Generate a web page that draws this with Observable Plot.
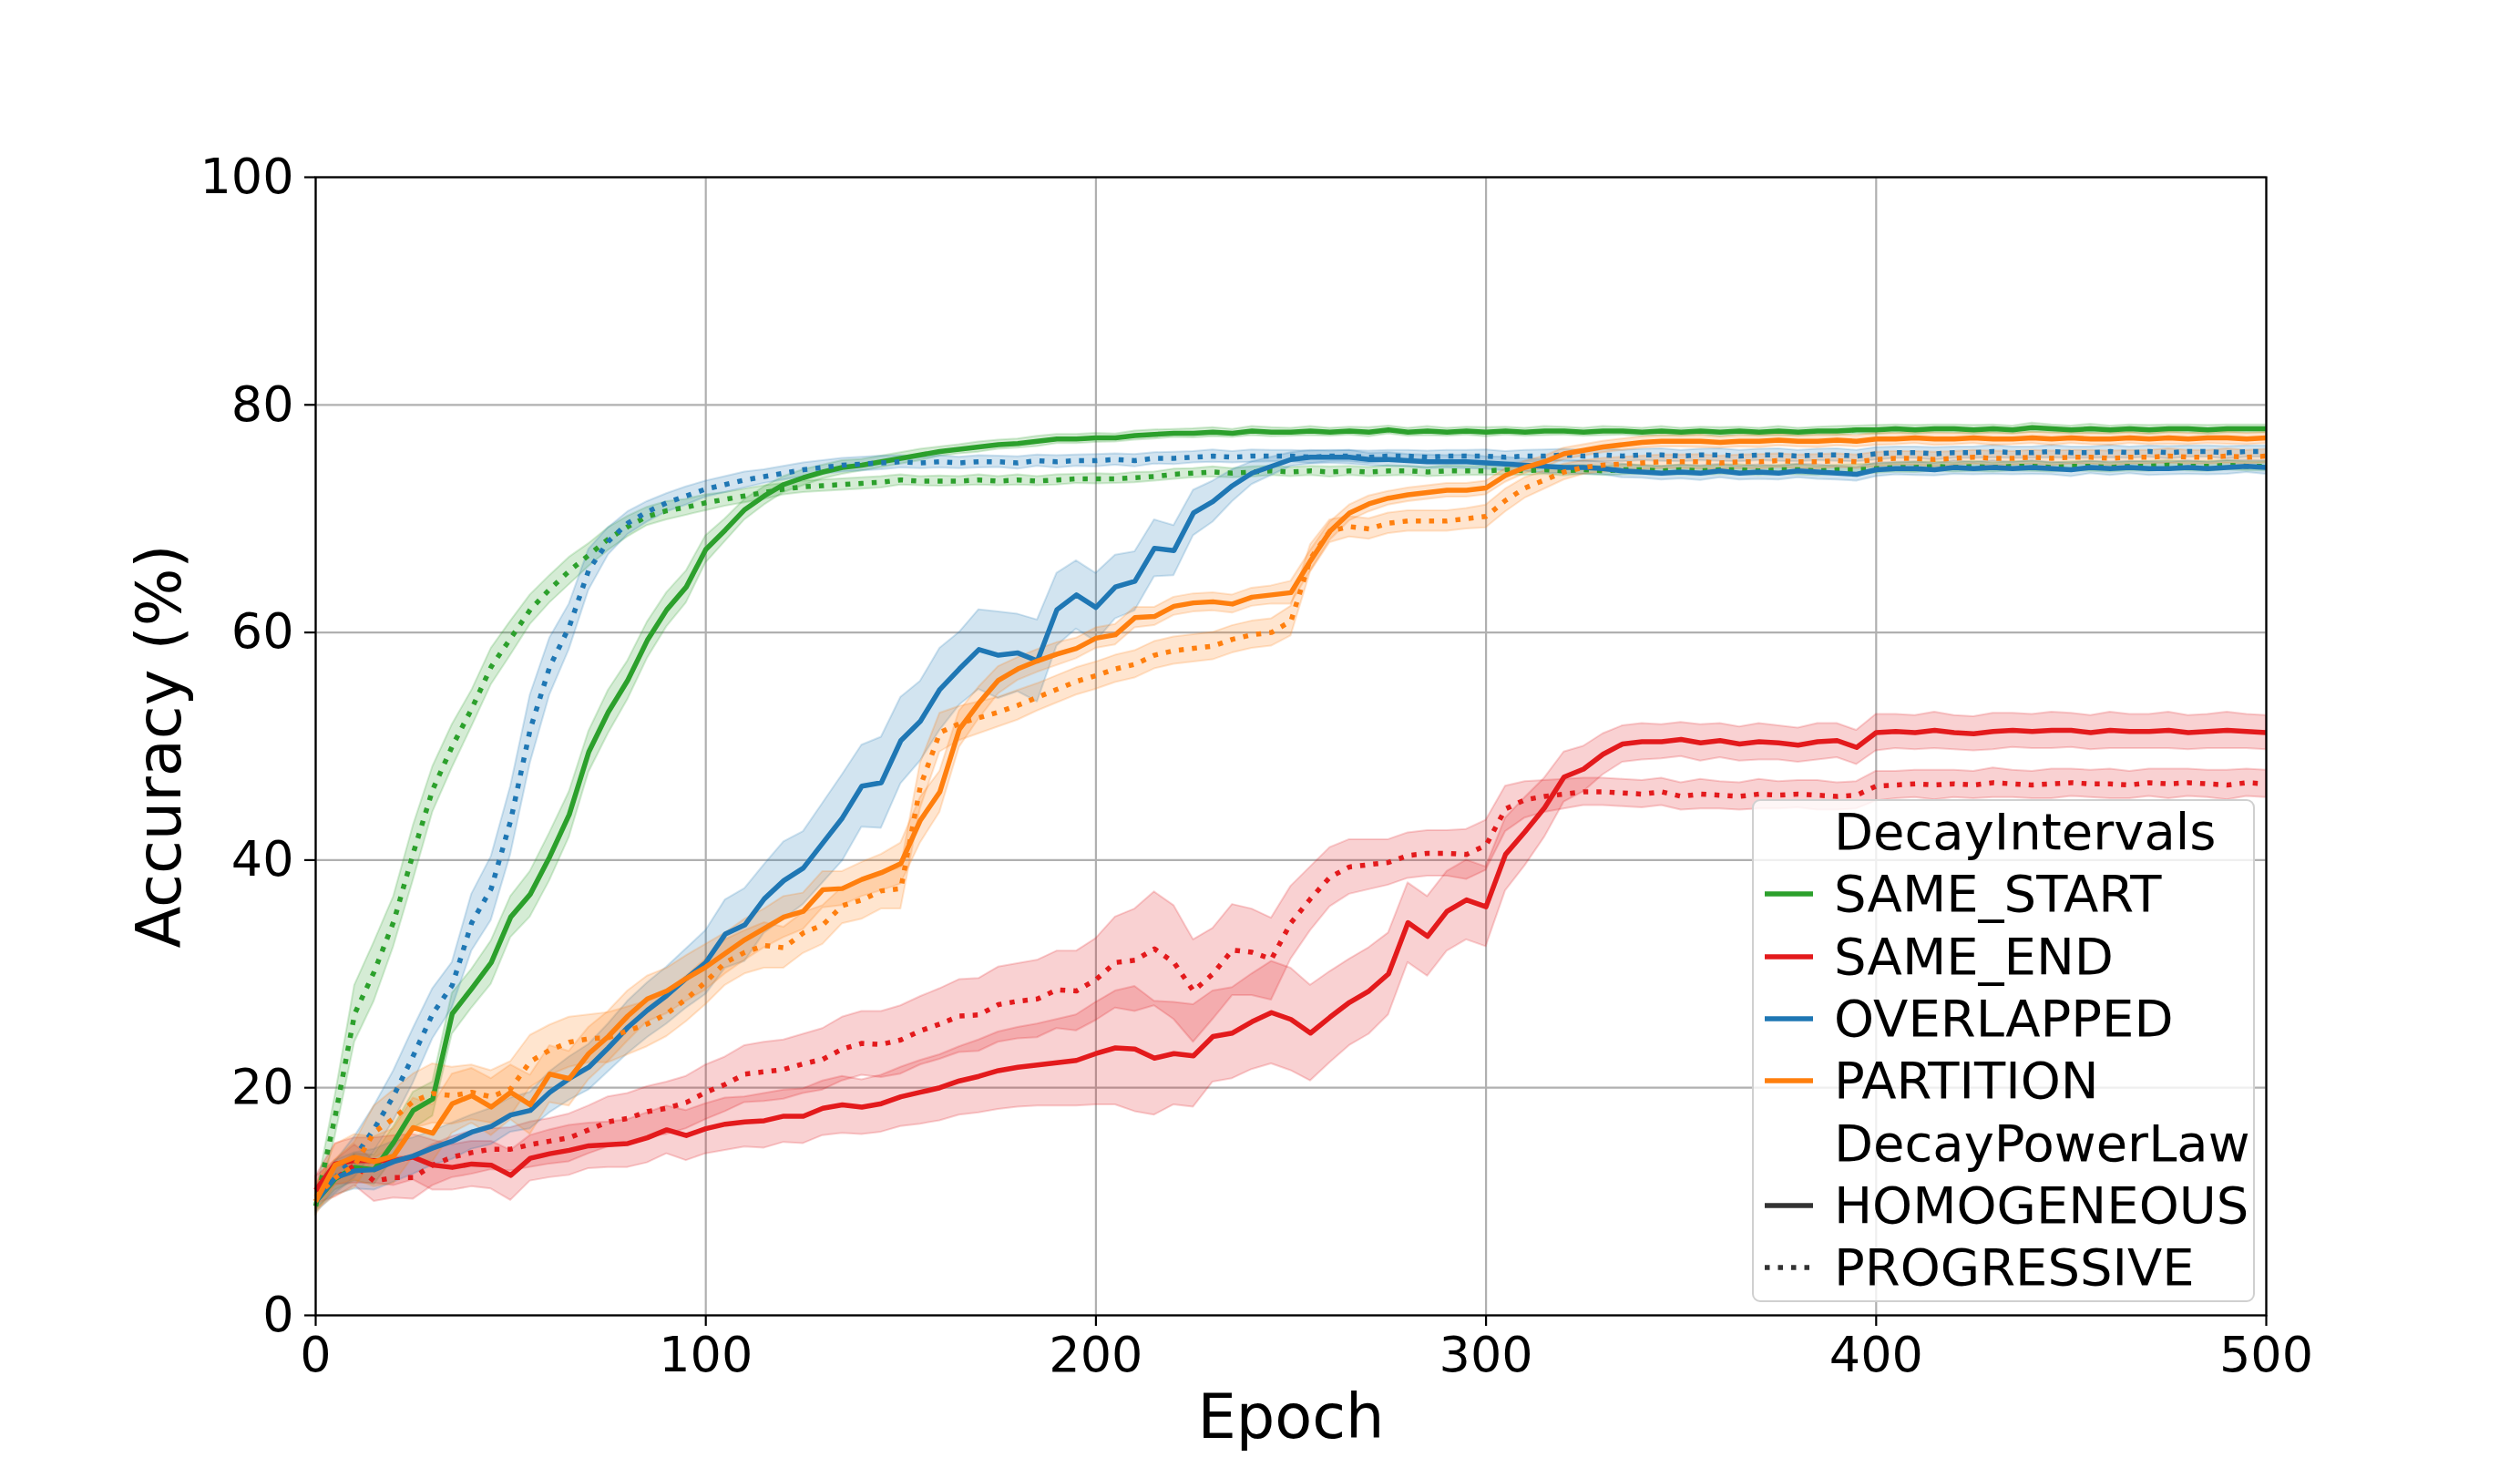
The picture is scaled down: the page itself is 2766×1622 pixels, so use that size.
<!DOCTYPE html>
<html>
<head>
<meta charset="utf-8">
<script src="https://cdn.jsdelivr.net/npm/d3@7"></script>
<script src="https://cdn.jsdelivr.net/npm/@observablehq/plot@0.6"></script>
<style>
  html, body { margin: 0; padding: 0; background: #fff; }
  #wrap { position: relative; width: 2766px; height: 1622px; overflow: hidden; font-family: "DejaVu Sans", sans-serif; }
  #legend { position: absolute; left: 1923px; top: 877px; width: 552px; height: 552px; box-sizing: border-box;
    border: 2.5px solid #d0d0d0; border-radius: 9px; background: rgba(255,255,255,0.8); }
  .row { position: absolute; left: 0; height: 68px; width: 100%; }
  .row svg { position: absolute; left: 10px; top: 0; }
  .row span { position: absolute; left: 88px; top: 50%; transform: translateY(-50%); font-size: 56px; color: #000; white-space: nowrap; line-height: 1; }
</style>
</head>
<body>
<div id="wrap"></div>
<script>
// ---------- data ----------
const EPOCHS = d3.range(0, 501, 5);
const X_TICKS = [0, 100, 200, 300, 400, 500];
const Y_TICKS = [0, 20, 40, 60, 80, 100];
const INTERVALS = ["SAME_START", "SAME_END", "OVERLAPPED", "PARTITION"];
const LAWS = ["HOMOGENEOUS", "PROGRESSIVE"];
const COLORS = ["#2ca02c", "#e31a1c", "#1f77b4", "#ff7f0e"];

// SAME_START
const SAME_START_HOMO = [
 10.0,12.0,13.0,12.8,15.2,18.0,19.0,26.5,28.7,31.0,
 35.0,37.0,40.3,44.0,49.5,53.0,55.8,59.3,62.0,64.0,
 67.3,69.0,70.8,72.0,73.0,73.6,74.1,74.5,74.7,75.0,
 75.3,75.6,75.9,76.1,76.3,76.5,76.6,76.8,77.0,77.0,
 77.1,77.1,77.3,77.4,77.5,77.5,77.6,77.5,77.7,77.6,
 77.6,77.7,77.6,77.7,77.6,77.8,77.6,77.7,77.6,77.7,
 77.6,77.7,77.6,77.7,77.7,77.6,77.7,77.7,77.6,77.7,
 77.6,77.7,77.6,77.7,77.6,77.7,77.6,77.7,77.7,77.8,
 77.8,77.9,77.8,77.9,77.9,77.8,77.9,77.8,78.0,77.9,
 77.8,77.9,77.8,77.9,77.8,77.9,77.9,77.8,77.9,77.9,
 77.9];
const SAME_START_HOMO_W = [
 0.8,1.0,1.2,1.3,1.4,1.6,1.5,1.8,1.7,1.9,
 1.8,2.0,2.1,2.0,1.8,1.9,1.7,1.6,1.5,1.4,
 1.2,1.0,0.9,0.8,0.7,0.7,0.6,0.6,0.5,0.5,
 0.5,0.5,0.4,0.4,0.45,0.4,0.4,0.45,0.4,0.4,
 0.4,0.35,0.4,0.4,0.35,0.4,0.4,0.35,0.4,0.4,
 0.35,0.4,0.35,0.35,0.4,0.35,0.35,0.4,0.35,0.35,
 0.4,0.35,0.35,0.4,0.35,0.35,0.4,0.35,0.35,0.4,
 0.35,0.35,0.4,0.35,0.35,0.4,0.35,0.35,0.4,0.35,
 0.4,0.35,0.4,0.35,0.35,0.4,0.35,0.35,0.4,0.35,
 0.35,0.4,0.35,0.35,0.4,0.35,0.35,0.4,0.35,0.35,
 0.35];
const SAME_START_PROG = [
 9.6,17.5,26.5,30.2,34.6,40.6,46.2,50.0,53.3,57.0,
 59.5,62.0,63.8,65.4,66.8,68.2,69.3,70.2,70.7,71.0,
 71.4,71.7,72.0,72.3,72.6,72.8,72.9,73.0,73.1,73.2,
 73.4,73.3,73.3,73.3,73.4,73.3,73.4,73.3,73.4,73.5,
 73.5,73.5,73.6,73.7,73.9,74.0,74.1,74.0,74.1,74.2,
 74.1,74.2,74.1,74.2,74.1,74.2,74.2,74.1,74.2,74.2,
 74.2,74.3,74.2,74.3,74.2,74.3,74.2,74.3,74.3,74.2,
 74.3,74.2,74.3,74.3,74.2,74.3,74.3,74.2,74.3,74.3,
 74.4,74.5,74.5,74.6,74.5,74.6,74.5,74.6,74.6,74.5,
 74.6,74.6,74.5,74.6,74.6,74.7,74.6,74.6,74.7,74.6,
 74.6];
const SAME_START_PROG_W = [
 0.8,1.8,2.5,2.6,2.2,2.4,2.0,1.9,1.6,1.6,
 1.5,1.3,1.2,1.2,1.0,1.0,0.9,0.8,0.8,0.7,
 0.7,0.6,0.6,0.6,0.5,0.5,0.5,0.5,0.5,0.5,
 0.45,0.4,0.45,0.4,0.45,0.4,0.45,0.4,0.45,0.4,
 0.45,0.4,0.45,0.4,0.45,0.4,0.45,0.4,0.45,0.4,
 0.4,0.4,0.45,0.4,0.4,0.45,0.4,0.4,0.45,0.4,
 0.4,0.45,0.4,0.4,0.45,0.4,0.4,0.45,0.4,0.4,
 0.45,0.4,0.4,0.45,0.4,0.4,0.45,0.4,0.4,0.45,
 0.4,0.4,0.45,0.4,0.4,0.45,0.4,0.4,0.45,0.4,
 0.4,0.45,0.4,0.4,0.45,0.4,0.4,0.45,0.4,0.4,
 0.4];

// SAME_END
const SAME_END_HOMO = [
 11.0,13.3,13.6,13.6,13.6,13.9,13.2,13.0,13.3,13.2,
 12.3,13.8,14.2,14.5,14.9,15.0,15.1,15.6,16.3,15.8,
 16.4,16.8,17.0,17.1,17.5,17.5,18.2,18.5,18.3,18.6,
 19.2,19.6,20.0,20.6,21.0,21.5,21.8,22.0,22.2,22.4,
 23.0,23.5,23.4,22.6,23.0,22.8,24.5,24.8,25.8,26.6,
 26.0,24.8,26.2,27.5,28.5,30.0,34.5,33.3,35.5,36.5,
 35.9,40.5,42.5,44.6,47.3,48.0,49.3,50.2,50.4,50.4,
 50.6,50.3,50.5,50.2,50.4,50.3,50.1,50.4,50.5,49.9,
 51.2,51.3,51.2,51.4,51.2,51.1,51.3,51.4,51.3,51.4,
 51.4,51.2,51.4,51.3,51.3,51.4,51.2,51.3,51.4,51.3,
 51.2];
const SAME_END_HOMO_W = [
 1.2,1.8,2.0,2.0,2.2,2.0,2.2,2.0,2.0,2.1,
 2.2,2.0,2.1,2.2,2.0,2.0,2.1,2.2,2.1,2.2,
 2.2,2.3,2.2,2.4,2.3,2.4,2.4,2.5,2.4,2.5,
 2.6,2.8,2.9,3.0,3.2,3.4,3.5,3.6,3.8,4.0,
 4.5,5.0,5.5,5.0,4.5,4.5,4.0,4.0,4.2,4.5,
 4.5,4.2,4.0,3.8,3.8,3.6,3.5,3.5,3.5,3.5,
 3.5,3.2,3.0,2.6,2.2,2.0,1.8,1.6,1.6,1.5,
 1.5,1.6,1.5,1.5,1.6,1.5,1.5,1.6,1.5,1.5,
 1.6,1.5,1.5,1.6,1.5,1.5,1.6,1.5,1.5,1.6,
 1.5,1.5,1.6,1.5,1.5,1.6,1.5,1.5,1.6,1.5,
 1.5];
const SAME_END_PROG = [
 11.0,12.0,13.2,11.8,12.1,12.1,13.2,13.9,14.3,14.6,
 14.6,15.0,15.3,15.6,16.3,17.0,17.3,17.9,18.2,18.7,
 19.6,20.3,21.2,21.4,21.6,22.1,22.5,23.4,23.9,23.8,
 24.2,25.0,25.6,26.3,26.4,27.3,27.6,27.8,28.6,28.5,
 29.5,31.0,31.2,32.2,31.0,28.5,30.0,32.1,31.9,31.3,
 34.5,36.6,38.5,39.4,39.6,39.8,40.4,40.6,40.6,40.5,
 41.3,44.5,45.3,45.6,45.8,46.0,46.0,45.9,45.8,46.0,
 45.6,45.8,45.7,45.6,45.8,45.7,45.8,45.7,45.6,45.7,
 46.5,46.6,46.7,46.6,46.7,46.6,46.8,46.7,46.6,46.7,
 46.8,46.7,46.7,46.6,46.8,46.7,46.8,46.7,46.6,46.8,
 46.7];
const SAME_END_PROG_W = [
 1.2,1.6,1.8,1.8,1.8,1.9,1.8,1.8,1.9,1.8,
 1.9,2.0,2.0,2.1,2.1,2.2,2.2,2.2,2.3,2.3,
 2.4,2.4,2.5,2.6,2.6,2.6,2.7,2.8,2.8,2.9,
 3.0,3.0,3.1,3.2,3.2,3.3,3.3,3.4,3.4,3.5,
 3.6,4.0,4.5,5.0,5.0,4.5,4.0,4.0,3.8,3.6,
 3.2,2.8,2.6,2.4,2.2,2.0,2.0,2.0,2.0,2.2,
 2.2,2.0,1.6,1.4,1.3,1.2,1.2,1.2,1.2,1.2,
 1.2,1.3,1.2,1.2,1.3,1.2,1.2,1.3,1.2,1.2,
 1.3,1.2,1.2,1.3,1.2,1.2,1.3,1.2,1.2,1.3,
 1.2,1.2,1.3,1.2,1.2,1.3,1.2,1.2,1.3,1.2,
 1.2];

// OVERLAPPED
const OVERLAPPED_HOMO = [
 10.0,12.1,12.7,12.8,13.5,14.0,14.7,15.3,16.1,16.6,
 17.6,18.0,19.6,20.8,21.8,23.5,25.3,26.8,28.1,29.6,
 31.0,33.5,34.3,36.6,38.2,39.3,41.5,43.7,46.5,46.8,
 50.5,52.2,55.0,56.8,58.5,58.0,58.2,57.5,62.0,63.3,
 62.2,64.0,64.5,67.4,67.2,70.5,71.5,72.9,74.0,74.6,
 75.2,75.4,75.4,75.4,75.2,75.2,75.1,75.0,75.0,75.0,
 74.9,74.8,74.7,74.6,74.5,74.5,74.4,74.2,74.1,74.0,
 74.1,74.0,74.2,74.0,74.1,74.0,74.2,74.1,74.0,73.9,
 74.3,74.4,74.4,74.3,74.5,74.4,74.5,74.4,74.5,74.4,
 74.3,74.5,74.4,74.5,74.4,74.4,74.5,74.4,74.5,74.6,
 74.5];
const OVERLAPPED_HOMO_W = [
 1.0,1.5,1.6,1.8,1.8,1.6,1.5,1.6,1.5,1.6,
 1.5,1.6,1.8,1.9,2.0,2.1,2.3,2.4,2.5,2.6,
 2.8,3.0,3.2,3.0,3.4,3.2,3.5,3.8,3.6,4.0,
 3.8,3.5,3.6,3.2,3.5,3.8,3.4,3.6,3.2,3.0,
 3.0,2.8,2.6,2.5,2.2,2.0,1.8,1.4,1.0,0.8,
 0.6,0.6,0.55,0.6,0.55,0.6,0.55,0.6,0.55,0.6,
 0.55,0.6,0.55,0.6,0.55,0.6,0.55,0.6,0.55,0.6,
 0.6,0.65,0.6,0.6,0.65,0.6,0.6,0.65,0.6,0.6,
 0.6,0.55,0.6,0.55,0.6,0.55,0.6,0.55,0.6,0.55,
 0.6,0.55,0.6,0.55,0.6,0.55,0.6,0.55,0.6,0.55,
 0.6];
const OVERLAPPED_PROG = [
 10.4,12.1,13.9,16.4,19.3,22.8,26.5,29.0,34.5,37.5,
 43.5,51.5,57.0,60.5,65.5,68.0,69.6,70.6,71.4,72.0,
 72.6,73.0,73.4,73.7,74.0,74.3,74.5,74.7,74.8,74.9,
 75.0,74.9,75.0,74.9,75.0,75.0,74.9,75.1,75.0,75.1,
 75.1,75.2,75.1,75.3,75.3,75.4,75.5,75.4,75.5,75.5,
 75.5,75.4,75.5,75.5,75.4,75.5,75.5,75.4,75.5,75.5,
 75.5,75.4,75.5,75.5,75.6,75.5,75.6,75.5,75.6,75.6,
 75.5,75.6,75.6,75.5,75.6,75.6,75.5,75.6,75.6,75.5,
 75.7,75.8,75.8,75.7,75.8,75.8,75.9,75.8,75.8,75.9,
 75.8,75.8,75.9,75.8,75.9,75.8,75.9,75.9,75.8,75.9,
 75.9];
const OVERLAPPED_PROG_W = [
 1.0,1.4,1.8,2.0,2.2,2.4,2.2,2.0,2.5,2.8,
 3.0,3.0,2.5,2.0,1.8,1.2,1.0,0.9,0.8,0.8,
 0.7,0.7,0.7,0.6,0.6,0.6,0.6,0.6,0.6,0.6,
 0.55,0.5,0.55,0.5,0.55,0.5,0.55,0.5,0.55,0.5,
 0.55,0.5,0.55,0.5,0.55,0.5,0.55,0.5,0.55,0.5,
 0.5,0.55,0.5,0.5,0.55,0.5,0.5,0.55,0.5,0.5,
 0.55,0.5,0.5,0.55,0.5,0.5,0.55,0.5,0.5,0.55,
 0.5,0.5,0.55,0.5,0.5,0.55,0.5,0.5,0.55,0.5,
 0.55,0.5,0.5,0.55,0.5,0.5,0.55,0.5,0.5,0.55,
 0.5,0.5,0.55,0.5,0.5,0.55,0.5,0.5,0.55,0.5,
 0.5];

// PARTITION
const PARTITION_HOMO = [
 10.0,13.2,13.9,13.5,14.0,16.5,16.0,18.6,19.3,18.3,
 19.6,18.5,21.2,20.8,23.0,24.5,26.3,27.8,28.5,29.6,
 30.6,31.8,33.0,34.0,35.0,35.5,37.4,37.5,38.3,38.9,
 39.7,43.5,46.0,51.5,53.8,55.8,56.8,57.5,58.1,58.6,
 59.5,59.8,61.3,61.4,62.3,62.6,62.7,62.5,63.1,63.3,
 63.5,66.3,68.9,70.5,71.3,71.8,72.1,72.3,72.5,72.5,
 72.7,73.8,74.5,75.0,75.7,76.0,76.3,76.5,76.7,76.8,
 76.8,76.8,76.7,76.8,76.8,76.9,76.8,76.8,76.9,76.8,
 77.0,77.0,77.1,77.0,77.0,77.1,77.0,77.0,77.1,77.0,
 77.1,77.0,77.0,77.1,77.0,77.1,77.0,77.1,77.1,77.0,
 77.1];
const PARTITION_HOMO_W = [
 1.2,1.8,2.0,2.2,2.4,2.6,2.5,2.6,2.4,2.5,
 2.4,2.6,2.5,2.4,2.3,2.2,2.2,2.0,2.0,2.0,
 2.0,1.8,1.8,1.7,1.8,1.6,1.6,1.5,1.5,1.6,
 1.8,2.0,1.8,1.6,1.4,1.2,1.0,1.0,1.0,0.9,
 0.9,0.9,0.9,0.8,0.8,0.8,0.8,0.8,0.8,0.8,
 1.0,0.9,0.8,0.7,0.7,0.6,0.6,0.6,0.6,0.6,
 0.6,0.6,0.55,0.5,0.5,0.5,0.5,0.5,0.5,0.5,
 0.5,0.55,0.5,0.5,0.55,0.5,0.5,0.55,0.5,0.5,
 0.55,0.5,0.5,0.55,0.5,0.5,0.55,0.5,0.5,0.55,
 0.5,0.5,0.55,0.5,0.5,0.55,0.5,0.5,0.55,0.5,
 0.5];
const PARTITION_PROG = [
 10.4,12.1,13.2,16.1,17.3,18.8,19.5,19.3,19.6,19.2,
 19.9,22.3,23.3,24.0,24.3,24.4,25.0,25.6,26.5,27.8,
 29.3,31.0,31.9,32.5,32.3,33.6,34.3,36.0,36.5,37.3,
 37.5,46.5,51.2,52.0,52.5,53.0,53.6,54.3,55.0,55.7,
 56.2,56.8,57.2,58.0,58.4,58.6,58.8,59.4,59.8,60.0,
 61.0,66.5,68.9,69.3,69.1,69.6,69.8,69.8,69.8,70.0,
 70.2,71.6,72.7,73.4,74.1,74.5,74.7,74.8,74.9,75.0,
 75.0,75.0,74.9,75.0,75.0,75.1,75.0,75.0,75.1,75.0,
 75.2,75.3,75.3,75.2,75.3,75.4,75.3,75.3,75.4,75.3,
 75.4,75.4,75.3,75.4,75.4,75.5,75.4,75.4,75.5,75.4,
 75.5];
const PARTITION_PROG_W = [
 1.2,1.6,2.0,2.3,2.5,2.4,2.6,2.5,2.4,2.3,
 2.4,2.3,2.2,2.2,2.1,2.2,2.1,2.0,2.0,2.0,
 2.0,2.0,1.9,2.0,1.8,1.8,1.7,1.6,1.7,1.6,
 1.8,2.0,1.7,1.5,1.4,1.3,1.3,1.2,1.2,1.2,
 1.2,1.2,1.2,1.2,1.2,1.2,1.2,1.2,1.2,1.2,
 1.3,1.2,1.0,0.9,0.9,0.9,0.9,0.9,0.9,0.9,
 1.0,1.0,0.9,0.8,0.7,0.6,0.6,0.6,0.6,0.6,
 0.6,0.65,0.6,0.6,0.65,0.6,0.6,0.65,0.6,0.6,
 0.65,0.6,0.6,0.65,0.6,0.6,0.65,0.6,0.6,0.65,
 0.6,0.6,0.65,0.6,0.6,0.65,0.6,0.6,0.65,0.6,
 0.6];

const SERIES = [
  {interval: "SAME_START", law: "HOMOGENEOUS", values: SAME_START_HOMO, widths: SAME_START_HOMO_W},
  {interval: "SAME_START", law: "PROGRESSIVE", values: SAME_START_PROG, widths: SAME_START_PROG_W},
  {interval: "SAME_END", law: "HOMOGENEOUS", values: SAME_END_HOMO, widths: SAME_END_HOMO_W},
  {interval: "SAME_END", law: "PROGRESSIVE", values: SAME_END_PROG, widths: SAME_END_PROG_W},
  {interval: "OVERLAPPED", law: "HOMOGENEOUS", values: OVERLAPPED_HOMO, widths: OVERLAPPED_HOMO_W},
  {interval: "OVERLAPPED", law: "PROGRESSIVE", values: OVERLAPPED_PROG, widths: OVERLAPPED_PROG_W},
  {interval: "PARTITION", law: "HOMOGENEOUS", values: PARTITION_HOMO, widths: PARTITION_HOMO_W},
  {interval: "PARTITION", law: "PROGRESSIVE", values: PARTITION_PROG, widths: PARTITION_PROG_W}
];

// ---------- chart ----------
const colorOf = (iv) => COLORS[INTERVALS.indexOf(iv)];
const DOT = "5.5,9";

const bandMarks = [];
const lineMarks = [];
for (const s of SERIES) {
  const rows = EPOCHS.map((e, i) => ({epoch: e, acc: s.values[i], lo: s.values[i] - s.widths[i], hi: s.values[i] + s.widths[i]}));
  const c = colorOf(s.interval);
  bandMarks.push(Plot.areaY(rows, {x: "epoch", y1: "lo", y2: "hi", fill: c, fillOpacity: 0.2, stroke: c, strokeOpacity: 0.2, strokeWidth: 2}));
  lineMarks.push(Plot.line(rows, {x: "epoch", y: "acc", stroke: c, strokeWidth: 5.5,
    strokeDasharray: s.law === "PROGRESSIVE" ? DOT : null, strokeLinecap: "butt", strokeLinejoin: "round"}));
}

const chart = Plot.plot({
  width: 2766, height: 1622,
  marginLeft: 346, marginRight: 279, marginTop: 194, marginBottom: 179,
  x: {domain: [0, 500]},
  y: {domain: [0, 100]},
  style: {fontFamily: "DejaVu Sans", fontSize: "54px", background: "white", color: "black", overflow: "visible"},
  marks: [
    Plot.gridX(X_TICKS, {stroke: "#b0b0b0", strokeOpacity: 1, strokeWidth: 2.2}),
    Plot.gridY(Y_TICKS, {stroke: "#b0b0b0", strokeOpacity: 1, strokeWidth: 2.2}),
    ...bandMarks,
    ...lineMarks,
    Plot.frame({stroke: "black", strokeWidth: 2.2}),
    Plot.axisX(X_TICKS, {tickSize: 12, tickPadding: 11, strokeWidth: 2.2, fontSize: 54, label: null}),
    Plot.axisY(Y_TICKS, {tickSize: 12, tickPadding: 12, strokeWidth: 2.2, fontSize: 54, label: null}),
    Plot.text(["Epoch"], {frameAnchor: "bottom", textAnchor: "middle", dy: 134, fontSize: 67}),
    Plot.text(["Accuracy (%)"], {frameAnchor: "left", textAnchor: "middle", rotate: -90, dx: -170, fontSize: 67})
  ]
});

const wrap = document.getElementById("wrap");
wrap.appendChild(chart);

// ---------- legend ----------
const legend = document.createElement("div");
legend.id = "legend";
const items = [
  {label: "DecayIntervals", handle: null},
  ...INTERVALS.map((iv, i) => ({label: iv, handle: {color: COLORS[i], dash: null}})),
  {label: "DecayPowerLaw", handle: null},
  {label: LAWS[0], handle: {color: "#333333", dash: null}},
  {label: LAWS[1], handle: {color: "#333333", dash: DOT}}
];
items.forEach((it, i) => {
  const row = document.createElement("div");
  row.className = "row";
  row.style.top = (0 + i * 68.3) + "px";
  if (it.handle) {
    const svg = d3.create("svg").attr("width", 60).attr("height", 68);
    svg.append("line").attr("x1", 2).attr("x2", 55).attr("y1", 34).attr("y2", 34)
      .attr("stroke", it.handle.color).attr("stroke-width", 5.5)
      .attr("stroke-dasharray", it.handle.dash).attr("stroke-linecap", "butt");
    row.appendChild(svg.node());
  }
  const span = document.createElement("span");
  span.textContent = it.label;
  row.appendChild(span);
  legend.appendChild(row);
});
wrap.appendChild(legend);
</script>
</body>
</html>
